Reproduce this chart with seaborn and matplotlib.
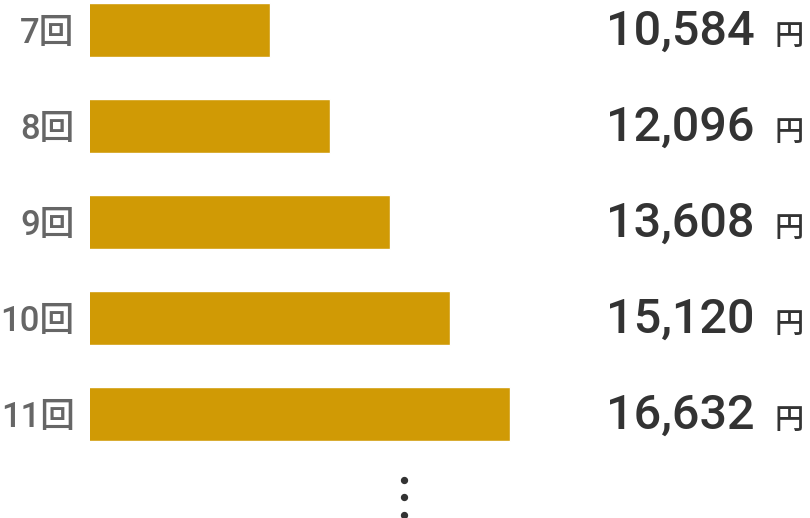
import numpy as np
import pandas as pd
import matplotlib
matplotlib.use("Agg")
import matplotlib.pyplot as plt
import matplotlib.transforms as mtransforms
import seaborn as sns

# データ
labels = ["7回", "8回", "9回", "10回", "11回"]
values = [10584, 12096, 13608, 15120, 16632]
base_value = 6048  # 棒の始まり

df = pd.DataFrame({"label": labels, "value": values})

sns.set_theme(style="white")
plt.rcParams["font.family"] = ["Roboto", "Noto Sans CJK JP", "DejaVu Sans"]

fig = plt.figure(figsize=(8.1, 5.18), dpi=100)
ax = fig.add_axes([90 / 810, 0, 720 / 810, 1])

sns.barplot(data=df, x="value", y="label", orient="h", color="#D09A05",
            saturation=1, width=0.5625, ax=ax)

ax.set_xlim(base_value, base_value + 720 * 25.2)
ax.set_ylim(5.083, -0.3125)
ax.set_xlabel("")
ax.set_ylabel("")
ax.set_xticks([])
for s in ax.spines.values():
    s.set_visible(False)
ax.tick_params(axis="y", length=0, pad=11)
for t in ax.get_yticklabels():
    t.set_fontsize(25)
    t.set_color("#666666")
    t.set_fontweight("medium")
    t.set_fontfamily(["Roboto", "Noto Sans CJK JP"])

trans = mtransforms.blended_transform_factory(ax.transAxes, ax.transData)
for i, v in enumerate(values):
    ax.text(0.9236, i + 0.156, f"{v:,}", transform=trans, ha="right", va="baseline",
            fontsize=35, fontweight="medium", color="#333333",
            family=["Roboto", "DejaVu Sans"])
    ax.text(0.951, i + 0.156, "円", transform=trans, ha="left", va="baseline",
            fontsize=21, fontweight="medium", color="#333333", family=["Noto Sans CJK JP"])

# 続きを示す縦の点
dot_y = [4.6875, 4.865, 5.05]
ax.scatter([13961] * 3, dot_y, s=18, color="#333333", zorder=3, clip_on=False)

fig.savefig("out.png", dpi=100)
